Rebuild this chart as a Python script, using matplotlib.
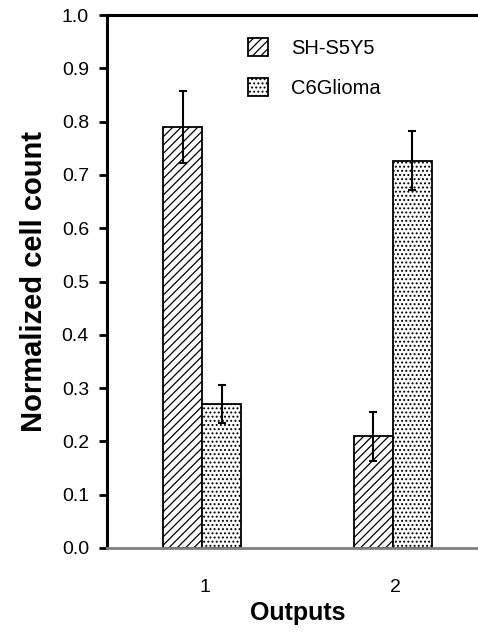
import matplotlib
matplotlib.use("Agg")
import matplotlib.pyplot as plt
import numpy as np

plt.rcParams['font.family'] = ['Liberation Sans', 'DejaVu Sans']
plt.rcParams['hatch.linewidth'] = 0.9

groups = ["1", "2"]
series = ["SH-S5Y5", "C6Glioma"]
sh_vals = [0.79, 0.21]
sh_err = [0.068, 0.046]
c6_vals = [0.27, 0.727]
c6_err = [0.036, 0.055]

W, H = 478, 637
fig = plt.figure(figsize=(W/100, H/100), dpi=100)
left, right = 107, 488
top, bottom = 15, 548
ax = fig.add_axes([left/W, 1 - bottom/H, (right-left)/W, (bottom-top)/H])

x = np.arange(1, len(groups) + 1)
bw = 0.205
ekw = dict(ecolor='black', elinewidth=1.5, capsize=2.7, capthick=1.5)
ax.bar(x - bw/2, sh_vals, bw, yerr=sh_err, color='white', edgecolor='black',
       linewidth=1.3, hatch='////', label=series[0], error_kw=ekw)
ax.bar(x + bw/2, c6_vals, bw, yerr=c6_err, color='white', edgecolor='black',
       linewidth=1.3, hatch='....', label=series[1], error_kw=ekw)

ax.set_xlim(0.5, 2.5)
ax.set_ylim(0, 1.0)
yt = np.arange(0, 1.01, 0.1)
ax.set_yticks(yt)
ax.set_yticklabels([f"{v:.1f}" for v in yt], fontsize=14)
ax.set_xticks(x + 0.015)
ax.set_xticklabels(groups, fontsize=14)
ax.tick_params(axis='x', length=0, pad=22)
ax.tick_params(axis='y', direction='out', length=6, width=2, pad=7)

for s in ['left', 'top']:
    ax.spines[s].set_linewidth(2.2)
    ax.spines[s].set_color('black')
ax.spines['right'].set_visible(False)
ax.spines['bottom'].set_color('#808080')
ax.spines['bottom'].set_linewidth(2)

ax.set_ylabel("Normalized cell count", fontsize=21, fontweight='bold', labelpad=10)
ax.set_xlabel("Outputs", fontsize=18, fontweight='bold', labelpad=4)

leg = ax.legend(loc='upper left', bbox_to_anchor=(238/W, 1 - 28/H),
                bbox_transform=fig.transFigure, frameon=False, borderpad=0,
                fontsize=14.5, handlelength=1.0, handleheight=1.0,
                labelspacing=1.0, handletextpad=1.15)

fig.savefig("out.png", dpi=100)
